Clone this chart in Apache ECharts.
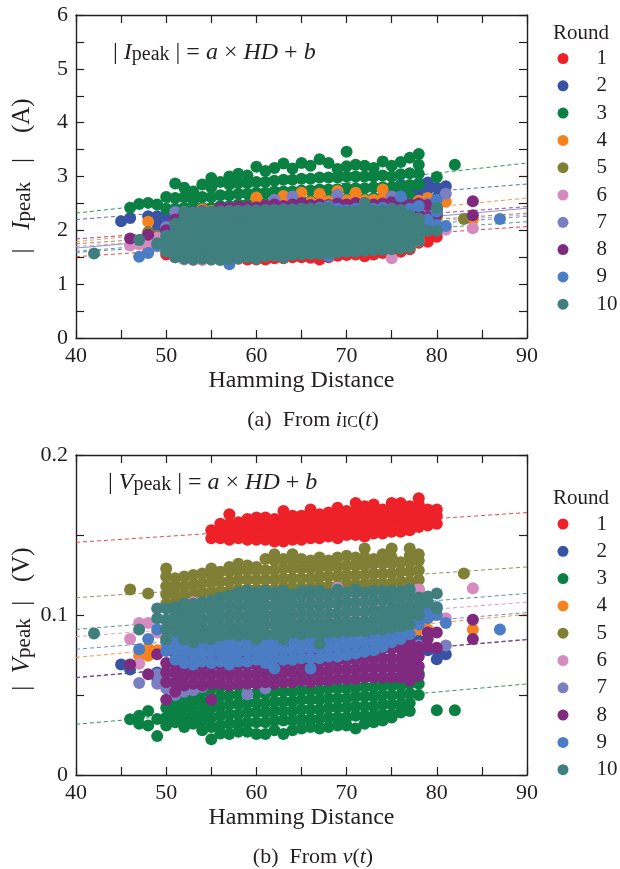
<!DOCTYPE html>
<html><head><meta charset="utf-8">
<script src="https://cdn.jsdelivr.net/npm/echarts@6/dist/echarts.min.js"></script>
<style>html,body{margin:0;padding:0;background:#fff}#c{width:620px;height:869px}</style>
</head><body><div id="c"></div>
<script>
const FONT = 'Liberation Serif';
const TXT = '#231f20';
const rounds = ['1','2','3','4','5','6','7','8','9','10'];
const colors = ['#ee2128','#3953a4','#0b8043','#f6821f','#7f7f35','#d68bc0','#7a7fc1','#7f2a7f','#4a7dc4','#3f7f7d'];
const xMin = 40, xMax = 90, xStep = 10;
const iMin = 0, iMax = 6, iStep = 1;
const vMin = 0, vMax = 0.2, vStep = 0.1;

// ---- (a) |Ipeak| (A): columns [HD, values...] ----
const I_r1 = [[48,1.6],[50,1.55,1.75],[51,1.5,1.7,1.9],[52,1.48,1.68,1.88,2.08],[53,1.5,1.7,1.9,2.1],[54,1.5,1.7,1.9,2.1],[55,1.48,1.68,1.88,2.08],[56,1.47,1.67,1.87,2.07],[57,1.45,1.65,1.85,2.05],[58,1.47,1.67,1.87,2.07],[59,1.46,1.68,1.88,2.1],[60,1.46,1.66,1.86,2.08],[61,1.46,1.66,1.86,2.1],[62,1.48,1.68,1.88,2.1],[63,1.48,1.7,1.9,2.12],[64,1.5,1.7,1.9,2.12],[65,1.5,1.7,1.92,2.14],[66,1.49,1.7,1.92,2.14],[67,1.46,1.68,1.9,2.12],[68,1.5,1.72,1.94,2.16],[69,1.53,1.74,1.95,2.16],[70,1.54,1.75,1.96,2.18],[71,1.55,1.76,1.98,2.2],[72,1.52,1.74,1.96,2.18],[73,1.55,1.77,1.98,2.2],[74,1.58,1.78,2.0,2.2],[75,1.57,1.78,2.0,2.22],[76,1.6,1.8,2.0,2.22],[77,1.65,1.82,2.02,2.22],[78,1.77,1.95,2.15],[79,1.79,1.97,2.12],[80,1.88,2.02]];
const I_r2 = [[45,2.17],[46,2.23],[48,2.26],[49,2.0,2.13,2.26],[50,1.95,2.1,2.28],[51,1.9,2.06,2.2,2.32],[52,1.85,2.02,2.18,2.33],[53,1.8,1.98,2.15,2.3],[54,1.78,1.96,2.14,2.34],[55,1.76,1.94,2.12,2.3],[56,1.76,1.94,2.12,2.32],[57,1.75,1.93,2.11,2.3],[58,1.76,1.94,2.12,2.32],[59,1.77,1.95,2.13,2.33],[60,1.78,1.96,2.14,2.34],[61,1.78,1.96,2.14,2.33],[62,1.79,1.97,2.15,2.35],[63,1.8,1.98,2.16,2.36],[64,1.8,1.98,2.16,2.35],[65,1.82,2.0,2.18,2.37],[66,1.82,2.0,2.18,2.36],[67,1.83,2.01,2.19,2.38],[68,1.84,2.02,2.2,2.38],[69,1.85,2.03,2.21,2.4],[70,1.86,2.04,2.22,2.4],[71,1.87,2.05,2.23,2.42],[72,1.88,2.06,2.24,2.44],[73,1.9,2.08,2.26,2.46,2.58],[74,1.9,2.08,2.26,2.45,2.62],[75,1.92,2.1,2.28,2.47,2.66],[76,1.95,2.13,2.31,2.5,2.68,2.85],[77,1.98,2.16,2.34,2.52,2.7,2.8],[78,2.05,2.23,2.41,2.6,2.76,2.87],[79,2.2,2.4,2.6,2.76,2.89],[80,2.4,2.6,2.79],[81,2.82]];
const I_r3 = [[46,2.42],[47,2.49],[48,2.51],[49,2.48],[50,2.4,2.62],[51,2.4,2.6,2.87],[52,2.42,2.62,2.79],[53,2.38,2.56,2.72],[54,2.42,2.62,2.85],[55,2.42,2.62,2.8,2.97],[56,2.45,2.65,2.9],[57,2.45,2.65,2.85,3.0],[58,2.48,2.68,2.88,3.05],[59,2.48,2.68,2.88,3.02],[60,2.5,2.7,2.9,3.18],[61,2.5,2.7,2.9,3.1],[62,2.52,2.72,2.92,3.16],[63,2.52,2.72,2.94,3.24],[64,2.52,2.72,2.94,3.15],[65,2.54,2.74,2.96,3.25],[66,2.54,2.74,2.96,3.2],[67,2.56,2.76,2.98,3.32],[68,2.56,2.76,2.98,3.25],[69,2.56,2.76,2.98,3.14],[70,2.58,2.78,3.0,3.19,3.46],[71,2.58,2.78,3.0,3.22],[72,2.58,2.78,3.0,3.2],[73,2.6,2.8,3.0,3.16],[74,2.6,2.8,3.02,3.28],[75,2.6,2.8,3.0,3.2],[76,2.62,2.82,3.04,3.27],[77,2.64,2.84,3.06,3.35],[78,2.85,3.05,3.22,3.42],[80,2.99],[82,3.22]];
const I_r4 = [[48,2.16],[51,1.98,2.17],[52,1.9,2.08,2.28],[53,1.86,2.04,2.24],[54,1.82,2.0,2.2,2.39],[55,1.82,2.0,2.18,2.36],[56,1.82,2.0,2.2,2.4],[57,1.82,2.0,2.18,2.36],[58,1.84,2.02,2.2,2.4],[59,1.85,2.04,2.24,2.44],[60,1.86,2.05,2.25,2.44,2.61],[61,1.86,2.05,2.25,2.46],[62,1.88,2.06,2.26,2.5],[63,1.9,2.1,2.3,2.48,2.64],[64,1.9,2.1,2.3,2.52],[65,1.9,2.1,2.3,2.5,2.7],[66,1.92,2.1,2.3,2.52],[67,1.92,2.12,2.32,2.5,2.68],[68,1.92,2.12,2.32,2.54],[69,1.95,2.15,2.35,2.55,2.73],[70,1.95,2.15,2.35,2.56],[71,1.96,2.16,2.36,2.55,2.7],[72,1.96,2.16,2.36,2.56],[73,1.98,2.18,2.38,2.57],[74,2.0,2.2,2.4,2.58,2.76],[75,2.0,2.2,2.4,2.56],[76,2.04,2.24,2.44,2.55],[77,2.08,2.28,2.48],[78,2.15,2.35,2.55],[79,2.3,2.45,2.6],[80,2.38,2.56],[81,2.53],[84,2.2]];
const I_r5 = [[48,1.97],[49,1.9],[50,1.8,1.96],[51,1.75,1.93,2.1],[52,1.72,1.9,2.08,2.26],[53,1.7,1.88,2.06,2.24],[54,1.72,1.9,2.08,2.26],[55,1.7,1.88,2.06,2.24],[56,1.71,1.89,2.07,2.25],[57,1.72,1.9,2.08,2.26],[58,1.73,1.91,2.09,2.27],[59,1.73,1.91,2.09,2.27],[60,1.74,1.92,2.1,2.28],[61,1.74,1.92,2.1,2.28],[62,1.75,1.93,2.11,2.29],[63,1.76,1.94,2.12,2.3],[64,1.76,1.94,2.12,2.3],[65,1.77,1.95,2.13,2.3],[66,1.78,1.96,2.14,2.3],[67,1.78,1.96,2.14,2.3],[68,1.79,1.97,2.15,2.3],[69,1.8,1.98,2.16,2.3],[70,1.8,1.98,2.16,2.3],[71,1.81,1.99,2.17,2.3],[72,1.82,2.0,2.18,2.3],[73,1.82,2.0,2.18,2.3],[74,1.83,2.01,2.19,2.3],[75,1.84,2.02,2.2,2.3],[76,1.85,2.03,2.21],[77,1.86,2.04,2.22],[78,1.89,2.08],[80,2.25],[83,2.21]];
const I_r6 = [[46,1.72],[47,1.74],[48,1.73],[49,1.7,1.86],[50,1.62,1.8],[51,1.5,1.68,1.86,2.04],[52,1.46,1.64,1.82,2.0,2.18],[53,1.45,1.63,1.81,1.99,2.17],[54,1.45,1.63,1.81,1.99,2.17],[55,1.46,1.64,1.82,2.0,2.18],[56,1.47,1.65,1.83,2.01,2.19],[57,1.49,1.67,1.85,2.03,2.2],[58,1.48,1.66,1.84,2.02,2.2],[59,1.56,1.74,1.92,2.1],[60,1.56,1.74,1.92,2.1],[61,1.57,1.75,1.93,2.11],[62,1.57,1.75,1.93,2.11],[63,1.58,1.76,1.94,2.12],[64,1.58,1.76,1.94,2.12],[65,1.59,1.77,1.95,2.13],[66,1.6,1.78,1.96,2.14],[67,1.6,1.78,1.96,2.14],[68,1.61,1.79,1.97,2.15],[69,1.62,1.8,1.98,2.16],[70,1.63,1.81,1.99,2.17],[71,1.64,1.82,2.0,2.18],[72,1.65,1.83,2.01,2.19],[73,1.66,1.84,2.02,2.2],[74,1.67,1.85,2.03,2.21],[75,1.48,1.68,1.86,2.04,2.22],[76,1.7,1.88,2.06,2.24],[77,1.72,1.9,2.08,2.26],[78,1.8,2.0,2.18],[81,2.01],[84,2.04]];
const I_r7 = [[50,2.06],[51,2.0,2.34],[52,1.8,2.0,2.34],[53,1.7,1.9,2.1,2.3],[54,1.7,1.9,2.1,2.3],[55,1.68,1.88,2.08,2.28],[56,1.7,1.9,2.1,2.32],[57,1.7,1.9,2.1,2.3,2.42],[58,1.71,1.91,2.11,2.31],[59,1.72,1.92,2.12,2.32],[60,1.72,1.92,2.12,2.34],[61,1.73,1.93,2.13,2.35],[62,1.74,1.94,2.14,2.36,2.57],[63,1.74,1.94,2.14,2.36],[64,1.75,1.95,2.15,2.38,2.63],[65,1.76,1.96,2.16,2.38],[66,1.76,1.96,2.16,2.38],[67,1.77,1.97,2.17,2.4],[68,1.78,1.98,2.18,2.4],[69,1.79,1.99,2.19,2.42,2.66],[70,1.8,2.0,2.2,2.42],[71,1.8,2.0,2.2,2.42],[72,1.81,2.01,2.21,2.43],[73,1.82,2.02,2.22,2.44],[74,1.83,2.03,2.23,2.45],[75,1.84,2.04,2.24,2.46,2.63],[76,1.85,2.05,2.25,2.47,2.58],[77,1.86,2.06,2.26,2.48],[78,2.2,2.4],[79,2.3,2.5],[80,2.4],[81,2.68]];
const I_r8 = [[46,1.85],[48,1.92],[50,2.0],[51,2.0,2.2],[52,1.8,2.0,2.3],[53,1.75,1.95,2.15,2.33],[54,1.74,1.94,2.14,2.36],[55,1.72,1.92,2.12,2.34],[56,1.72,1.92,2.12,2.32,2.42],[57,1.73,1.93,2.13,2.33,2.42],[58,1.73,1.93,2.13,2.33,2.44],[59,1.74,1.94,2.14,2.34,2.44],[60,1.74,1.94,2.14,2.34,2.43],[61,1.75,1.95,2.15,2.35,2.46],[62,1.76,1.96,2.16,2.36,2.48],[63,1.76,1.96,2.16,2.36,2.45],[64,1.77,1.97,2.17,2.37,2.48],[65,1.78,1.98,2.18,2.38,2.51],[66,1.78,1.98,2.18,2.38,2.47],[67,1.79,1.99,2.19,2.39,2.48],[68,1.8,2.0,2.2,2.4,2.47],[69,1.8,2.0,2.2,2.4,2.5],[70,1.81,2.01,2.21,2.41,2.48],[71,1.82,2.02,2.22,2.42,2.51],[72,1.82,2.02,2.22,2.42,2.5],[73,1.83,2.03,2.23,2.43,2.48],[74,1.84,2.04,2.24,2.44,2.5],[75,1.85,2.05,2.25,2.45,2.52],[76,1.86,2.06,2.26,2.46],[77,1.9,2.1,2.3,2.48],[78,2.1,2.3,2.5],[79,2.25,2.47],[80,2.3,2.4],[84,2.28,2.54]];
const I_r9 = [[47,1.51],[48,1.58],[49,1.72],[50,1.75,1.9],[51,1.6,1.89,2.1],[52,1.55,1.75,1.95,2.15],[53,1.55,1.75,1.95,2.15,2.33],[54,1.55,1.75,1.95,2.15,2.35],[55,1.54,1.74,1.94,2.14,2.34],[56,1.55,1.75,1.95,2.15,2.35],[57,1.37,1.56,1.76,1.96,2.16,2.36],[58,1.56,1.76,1.96,2.16,2.36],[59,1.57,1.77,1.97,2.17,2.37],[60,1.57,1.77,1.97,2.17,2.37],[61,1.58,1.78,1.98,2.18,2.38],[62,1.58,1.78,1.98,2.18,2.38],[63,1.59,1.79,1.99,2.19,2.39],[64,1.6,1.8,2.0,2.2,2.38],[65,1.6,1.8,2.0,2.2,2.4],[66,1.61,1.81,2.01,2.21,2.38],[67,1.62,1.82,2.02,2.22,2.42],[68,1.52,1.72,1.92,2.12,2.32,2.45],[69,1.63,1.83,2.03,2.23,2.4],[70,1.64,1.84,2.04,2.24,2.38],[71,1.65,1.85,2.05,2.25,2.4],[72,1.66,1.86,2.06,2.26,2.38],[73,1.67,1.87,2.07,2.27,2.4],[74,1.68,1.88,2.08,2.28,2.42],[75,1.7,1.9,2.1,2.3,2.4],[76,1.72,1.92,2.12,2.32,2.63],[77,2.2,2.4],[78,2.0,2.2,2.45],[79,2.0,2.2],[80,2.1,2.35,2.57],[81,2.08],[87,2.21]];
const I_r10 = [[42,1.57],[47,1.82],[49,1.76],[50,1.6,1.75,1.88],[51,1.5,1.66,1.82,1.98,2.12],[52,1.47,1.62,1.77,1.92,2.07,2.22,2.33],[53,1.46,1.61,1.76,1.91,2.06,2.21,2.32],[54,1.47,1.62,1.77,1.92,2.07,2.22,2.34],[55,1.46,1.61,1.76,1.91,2.06,2.21,2.34],[56,1.45,1.6,1.75,1.9,2.05,2.2,2.35],[57,1.47,1.62,1.77,1.92,2.07,2.22,2.36],[58,1.48,1.63,1.78,1.93,2.08,2.23,2.36],[59,1.5,1.65,1.8,1.95,2.1,2.25,2.37],[60,1.47,1.62,1.77,1.92,2.07,2.22,2.37],[61,1.52,1.67,1.82,1.97,2.12,2.27,2.38],[62,1.53,1.68,1.83,1.98,2.13,2.28,2.38],[63,1.49,1.64,1.79,1.94,2.09,2.24,2.38],[64,1.54,1.69,1.84,1.99,2.14,2.29,2.39],[65,1.55,1.7,1.85,2.0,2.15,2.3,2.4],[66,1.56,1.71,1.86,2.01,2.16,2.31,2.4],[67,1.56,1.71,1.86,2.01,2.16,2.31,2.39],[68,1.58,1.73,1.88,2.03,2.18,2.33,2.41],[69,1.59,1.74,1.89,2.04,2.19,2.34],[70,1.6,1.75,1.9,2.05,2.2,2.35],[71,1.6,1.75,1.9,2.05,2.2,2.35],[72,1.62,1.77,1.92,2.07,2.22,2.37,2.51],[73,1.63,1.78,1.93,2.08,2.23,2.36],[74,1.64,1.79,1.94,2.09,2.24,2.37],[75,1.65,1.8,1.95,2.1,2.25,2.38],[76,1.66,1.81,1.96,2.11,2.26,2.38],[77,1.68,1.83,1.98,2.13,2.28],[78,1.8,1.95,2.1,2.22],[79,1.99],[80,1.99,2.42]];
// fitted lines: value at HD=40 and HD=90
const I_fit = [[1.51,2.07],[2.20,2.86],[2.32,3.25],[1.79,2.60],[1.75,2.32],[1.70,2.29],[1.67,2.41],[1.84,2.44],[1.61,2.26],[1.59,2.16]];

// ---- (b) |Vpeak| (V) ----
const V_r1 = [[55,.148,.153],[56,.148,.153,.157],[57,.147,.152,.157,.163],[58,.148,.153,.158],[59,.147,.152,.157,.16],[60,.147,.152,.157,.161],[61,.147,.152,.157,.161],[62,.146,.151,.156,.16],[63,.146,.151,.156,.161,.165],[64,.147,.152,.157,.162],[65,.147,.152,.157,.162],[66,.148,.153,.158,.162,.166],[67,.148,.153,.158,.163],[68,.149,.154,.159,.164],[69,.148,.153,.158,.163,.167],[70,.15,.155,.16,.165],[71,.15,.155,.16,.165,.17],[72,.149,.154,.159,.164,.168],[73,.151,.156,.161,.166,.169],[74,.151,.156,.161,.166],[75,.152,.157,.162,.167,.17],[76,.152,.157,.162,.166,.17],[77,.153,.158,.163,.168],[78,.155,.16,.165,.169,.173],[79,.156,.161,.166],[80,.157,.162,.166]];
const V_r2 = [[45,.069],[46,.066],[49,.0605,.064],[50,.062],[51,.059,.066],[52,.057,.063,.07],[53,.062,.068,.074,.08],[55,.062,.068,.074,.08],[57,.062,.068,.074,.08],[59,.063,.069,.075,.081],[61,.063,.069,.075,.081],[63,.064,.07,.076,.082],[65,.064,.07,.076,.082],[67,.065,.071,.077,.083],[69,.065,.071,.077,.083],[71,.066,.072,.078,.084],[73,.066,.072,.078,.084],[75,.067,.073,.079,.085],[77,.067,.073,.079,.085],[78,.078,.084],[79,.078],[80,.0723,.078],[81,.0755]];
const V_r3 = [[46,.0348],[47,.037,.032],[48,.04,.031],[49,.035,.0243],[50,.042,.036,.031],[51,.045,.039,.033],[52,.048,.042,.036,.03],[53,.05,.044,.038,.032],[54,.052,.046,.04,.034,.028],[55,.054,.048,.042,.036,.03,.0223],[56,.055,.049,.043,.037,.031,.026],[57,.056,.05,.044,.038,.032,.0256],[58,.056,.05,.044,.038,.032,.027],[59,.057,.051,.045,.039,.033,.027],[60,.057,.051,.045,.039,.033,.0256],[61,.057,.051,.045,.039,.033,.0256],[62,.058,.052,.046,.04,.034,.028],[63,.058,.052,.046,.04,.034,.0256],[64,.058,.052,.046,.04,.034,.028],[65,.059,.053,.047,.041,.035,.029],[66,.059,.053,.047,.041,.035,.03],[67,.059,.053,.047,.041,.035,.029],[68,.06,.054,.048,.042,.036,.03],[69,.06,.054,.048,.042,.036,.031],[70,.06,.054,.048,.042,.036,.031],[71,.061,.055,.049,.043,.037,.029],[72,.061,.055,.049,.043,.037,.032],[73,.061,.055,.049,.043,.037,.033],[74,.062,.056,.05,.044,.038,.034],[75,.062,.056,.05,.044,.038,.036],[76,.062,.056,.05,.044,.039],[77,.063,.057,.051,.045,.04],[78,.0635,.057,.05],[80,.0405],[82,.0405]];
const V_r4 = [[47,.0745],[48,.0745,.079],[49,.078],[50,.08,.086],[51,.076,.082,.088],[53,.076,.082,.088,.094],[55,.076,.082,.088,.094],[57,.077,.083,.089,.095],[59,.077,.083,.089,.095],[61,.078,.084,.09,.096],[63,.078,.084,.09,.096],[65,.079,.085,.091,.097],[67,.079,.085,.091,.097],[69,.08,.086,.092,.098],[71,.08,.086,.092,.098],[73,.081,.087,.093,.099],[75,.082,.088,.094,.1],[77,.083,.089,.095],[78,.091,.095],[79,.091],[84,.091]];
const V_r5 = [[46,.116],[48,.1135],[50,.107,.113,.118,.124,.129],[51,.108,.113,.118,.123],[52,.106,.112,.118,.124],[53,.107,.113,.119,.125],[54,.108,.114,.12,.126],[55,.108,.114,.12,.125,.129],[56,.109,.115,.121,.127],[57,.109,.115,.121,.127,.13],[58,.11,.116,.122,.128,.132],[59,.11,.116,.122,.128,.131],[60,.11,.116,.122,.128,.13],[61,.11,.116,.122,.128,.135],[62,.11,.116,.122,.128,.134,.138],[63,.111,.117,.123,.129,.135],[64,.111,.117,.123,.129,.134,.138],[65,.111,.117,.123,.129,.135],[66,.111,.117,.123,.129,.134],[67,.112,.118,.124,.13,.136],[68,.112,.118,.124,.13,.134],[69,.112,.118,.124,.13,.136],[70,.113,.119,.125,.131,.137],[71,.113,.119,.125,.131,.136],[72,.113,.119,.125,.131,.136,.1415],[73,.114,.12,.126,.132,.135],[74,.114,.12,.126,.132,.138],[75,.114,.12,.126,.132,.136,.1415],[76,.115,.121,.127,.133],[77,.115,.121,.127,.133,.137,.1415],[78,.116,.122,.128,.134,.138],[83,.126]];
const V_r6 = [[46,.085],[47,.095,.0695],[48,.095],[49,.089],[50,.09,.096],[51,.088,.094,.1],[53,.088,.095,.102,.108],[55,.089,.096,.103,.108],[57,.089,.096,.103,.109],[59,.09,.097,.104,.109],[61,.09,.097,.104,.11],[63,.091,.098,.105,.11],[65,.091,.098,.105,.11],[67,.092,.099,.106,.111],[69,.092,.099,.106,.111,.117],[71,.093,.1,.107,.112],[73,.093,.1,.107,.112],[75,.094,.101,.108,.112],[77,.095,.102,.108],[78,.1,.108,.116],[81,.098],[84,.1167]];
const V_r7 = [[47,.0575],[49,.057,.063],[50,.054,.06,.065],[51,.05,.056,.062],[52,.052,.058,.064],[53,.053,.059,.065],[54,.055,.061],[55,.058,.064],[56,.058,.064],[57,.059,.065],[58,.058,.064],[59,.0504,.06,.066],[60,.06,.066],[61,.054,.06,.066],[62,.06,.066],[63,.059,.065],[64,.06,.066],[65,.061,.067],[66,.059,.065],[67,.062,.068],[68,.062,.068],[69,.062,.068],[70,.063,.069],[71,.063,.069],[72,.064,.07],[73,.0635,.07],[74,.065,.071],[75,.066,.072],[76,.072,.0788],[77,.0656,.072],[78,.081],[81,.081]];
const V_r8 = [[46,.069],[48,.063],[49,.0755],[50,.047,.058,.064,.07],[51,.052,.058,.064,.07,.076],[52,.056,.062,.068,.074],[53,.057,.063,.069,.075],[54,.056,.062,.068,.074],[55,.047,.057,.063,.069,.075],[56,.057,.063,.069,.075],[57,.056,.062,.068,.074],[58,.057,.063,.069,.075],[59,.057,.063,.069,.075],[60,.057,.063,.069,.075],[61,.058,.064,.07,.076],[62,.057,.063,.069,.075],[63,.058,.064,.07,.076],[64,.058,.064,.07,.076],[65,.059,.065,.071,.077],[66,.058,.064,.07,.076],[67,.059,.065,.071,.077],[68,.059,.065,.071,.077],[69,.06,.066,.072,.078],[70,.06,.066,.072,.078],[71,.06,.066,.072,.078],[72,.061,.067,.073,.079],[73,.061,.067,.073,.079,.085],[74,.061,.067,.073,.079,.085],[75,.061,.067,.073,.079,.085],[76,.061,.067,.073,.079,.085],[77,.059,.065,.071,.077,.083],[78,.062,.068,.074,.08],[79,.08,.085,.089],[80,.0795,.089],[84,.085,.097]];
const V_r9 = [[47,.0786],[48,.085],[49,.091],[50,.0775,.083],[51,.072,.078,.084,.09],[52,.07,.076,.082,.088],[53,.069,.075,.081,.087],[54,.071,.077,.083,.089],[55,.07,.076,.082,.088],[56,.071,.077,.083,.089],[57,.069,.075,.081,.087],[58,.071,.077,.083,.089],[59,.071,.077,.083,.089],[60,.072,.078,.084,.09],[61,.07,.076,.082,.088],[62,.0665,.073,.079,.085],[63,.072,.078,.084,.09],[64,.072,.078,.084,.09],[65,.073,.079,.085,.091],[66,.0665,.073,.079,.085],[67,.073,.079,.085,.091],[68,.074,.08,.086,.092],[69,.074,.08,.086,.092],[70,.075,.081,.087,.093],[71,.076,.082,.088,.094],[72,.077,.083,.089,.095],[73,.078,.084,.09,.096],[74,.08,.086,.092,.098],[75,.083,.089,.095,.1],[76,.085,.091,.097,.102],[77,.088,.094,.1,.105],[78,.094,.1,.105],[79,.098,.103],[80,.1,.105],[81,.095],[87,.091]];
const V_r10 = [[42,.0885],[47,.091],[49,.098,.104],[50,.085,.091,.097,.104],[51,.09,.095,.1,.105],[52,.085,.091,.097,.103,.107],[53,.083,.089,.095,.101,.107],[54,.086,.092,.098,.104,.108],[55,.085,.091,.097,.103,.109],[56,.087,.093,.099,.105,.111],[57,.088,.094,.1,.106,.112],[58,.087,.093,.099,.105,.111,.114],[59,.088,.094,.1,.106,.112,.115],[60,.085,.091,.097,.103,.109,.114],[61,.088,.094,.1,.106,.112,.115],[62,.088,.094,.1,.106,.112,.114],[63,.085,.091,.097,.103,.109,.115],[64,.089,.095,.101,.107,.113],[65,.088,.094,.1,.106,.112,.115],[66,.089,.095,.101,.107,.113,.115],[67,.082,.088,.094,.1,.106,.112,.115],[68,.089,.095,.101,.107,.113],[69,.089,.095,.101,.107,.113,.116],[70,.09,.096,.102,.108,.114],[71,.09,.096,.102,.108,.114,.116],[72,.09,.096,.102,.108,.114],[73,.091,.097,.103,.109,.115],[74,.091,.097,.103,.109,.115],[75,.092,.098,.104,.11,.115],[76,.093,.099,.105,.111,.115],[77,.094,.1,.106,.112,.116],[78,.1,.105,.111],[79,.108,.1115],[80,.104,.1135]];
const V_fit = [[.1454,.164],[.0608,.0848],[.0317,.0569],[.0735,.1004],[.1108,.130],[.0865,.108],[.0608,.0848],[.061,.0845],[.0786,.1015],[.091,.1135]];

const I_sets = [I_r1,I_r2,I_r3,I_r4,I_r5,I_r6,I_r7,I_r8,I_r9,I_r10];
const V_sets = [V_r1,V_r2,V_r3,V_r4,V_r5,V_r6,V_r7,V_r8,V_r9,V_r10];

function flat(cols){ const out=[]; cols.forEach(c=>{ for(let k=1;k<c.length;k++) out.push([c[0],c[k]]); }); return out; }

const lineC = '#231f20';
function xAx(g, pos, withLabel){
  return {gridIndex:g, type:'value', position:pos, min:xMin, max:xMax, interval:xStep,
    axisLine:{show:true,onZero:false,lineStyle:{color:lineC,width:1.4}},
    axisTick:{show:true,inside:true,length:8,lineStyle:{color:lineC,width:1.2}},
    minorTick:{show:true,splitNumber:2,length:8,lineStyle:{color:lineC,width:1.2}},
    splitLine:{show:false},
    axisLabel:{show:withLabel,margin:7,fontSize:22,fontFamily:FONT,color:TXT},
    name: withLabel?'Hamming Distance':'', nameLocation:'middle', nameGap:31,
    nameTextStyle:{fontSize:24,fontFamily:FONT,color:TXT}};
}
function yAx(g, pos, withLabel, mn, mx, st){
  return {gridIndex:g, type:'value', position:pos, min:mn, max:mx, interval:st,
    axisLine:{show:true,onZero:false,lineStyle:{color:lineC,width:1.4}},
    axisTick:{show:true,inside:true,length:8,lineStyle:{color:lineC,width:1.2}},
    minorTick:{show:true,splitNumber:2,length:8,lineStyle:{color:lineC,width:1.2}},
    splitLine:{show:false},
    axisLabel:{show:withLabel,margin:8,fontSize:22,fontFamily:FONT,color:TXT}};
}

const series = [];
[[I_fit,0],[V_fit,1]].forEach(([fit,g])=>{
  fit.forEach((f,i)=>{
    series.push({type:'line', name:'fit'+g+'_'+i, xAxisIndex:g*2, yAxisIndex:g*2, silent:true,
      data:[[xMin,f[0]],[xMax,f[1]]], symbol:'none', z:1,
      lineStyle:{color:colors[i], width:1, opacity:0.85, type:(g===0&&i===6)?'solid':[4,3]}});
  });
});
[[I_sets,0],[V_sets,1]].forEach(([sets,g])=>{
  sets.forEach((s,i)=>{
    series.push({type:'scatter', name:rounds[i], xAxisIndex:g*2, yAxisIndex:g*2, silent:true,
      data:flat(s), symbol:'circle', symbolSize:12, z:2,
      itemStyle:{color:colors[i], opacity:1}});
  });
});

function legendAt(top){
  return {data:rounds.map(n=>({name:n,icon:'circle'})), orient:'vertical', left:557.5, top:top,
    itemWidth:11, itemHeight:11, itemGap:5.3, padding:0, selectedMode:false,
    textStyle:{fontSize:21,fontFamily:FONT,color:TXT,lineHeight:22,padding:[0,0,0,23]}};
}

function mk(fs, ss){
  return {
    n:{fontSize:fs,fontFamily:FONT,fill:TXT,verticalAlign:'bottom'},
    i:{fontSize:fs,fontFamily:FONT,fontStyle:'italic',fill:TXT,verticalAlign:'bottom'},
    s:{fontSize:ss,fontFamily:FONT,fill:TXT,verticalAlign:'bottom'}
  };
}
function txt(x,y,text,align,rot,rich){
  return {type:'text', x:x, y:y, rotation:rot||0, silent:true,
    style:{text:text, rich:rich, align:align||'left', verticalAlign:'middle', fill:TXT, fontSize:21, fontFamily:FONT}};
}
const eqRich = mk(24,20), capRich = mk(22,16), axRich = mk(25,21);

const option = {
  animation:false,
  backgroundColor:'#fff',
  grid:[{left:76,top:15,width:451,height:323},{left:76,top:455,width:451,height:320}],
  xAxis:[xAx(0,'bottom',true), xAx(0,'top',false), xAx(1,'bottom',true), xAx(1,'top',false)],
  yAxis:[yAx(0,'left',true,iMin,iMax,iStep), yAx(0,'right',false,iMin,iMax,iStep),
         yAx(1,'left',true,vMin,vMax,vStep), yAx(1,'right',false,vMin,vMax,vStep)],
  legend:[legendAt(47.5), legendAt(513)],
  series:series,
  graphic:[
    {type:'text', x:581, y:33, silent:true, style:{text:'Round', fontSize:21, fontFamily:FONT, fill:TXT, align:'center', verticalAlign:'middle'}},
    {type:'text', x:581, y:498, silent:true, style:{text:'Round', fontSize:21, fontFamily:FONT, fill:TXT, align:'center', verticalAlign:'middle'}},
    txt(113,53,'{n|| }{i|I}{s|peak}{n| | = }{i|a}{n| × }{i|HD}{n| + }{i|b}','left',0,eqRich),
    txt(108,483,'{n|| }{i|V}{s|peak}{n| | = }{i|a}{n| × }{i|HD}{n| + }{i|b}','left',0,eqRich),
    txt(22,176,'{n||   }{i|I}{s|peak}{n|   |    (A)}','center',Math.PI/2,axRich),
    txt(22,619,'{n||  }{i|V}{s|peak}{n|  |   (V)}','center',Math.PI/2,axRich),
    txt(313,420,'{n|(a)  From }{i|i}{s|IC}{n|(}{i|t}{n|)}','center',0,capRich),
    txt(313,857,'{n|(b)  From }{i|v}{n|(}{i|t}{n|)}','center',0,capRich)
  ]
};
const chart = echarts.init(document.getElementById('c'), null, {renderer:'canvas'});
chart.setOption(option);
</script></body></html>
